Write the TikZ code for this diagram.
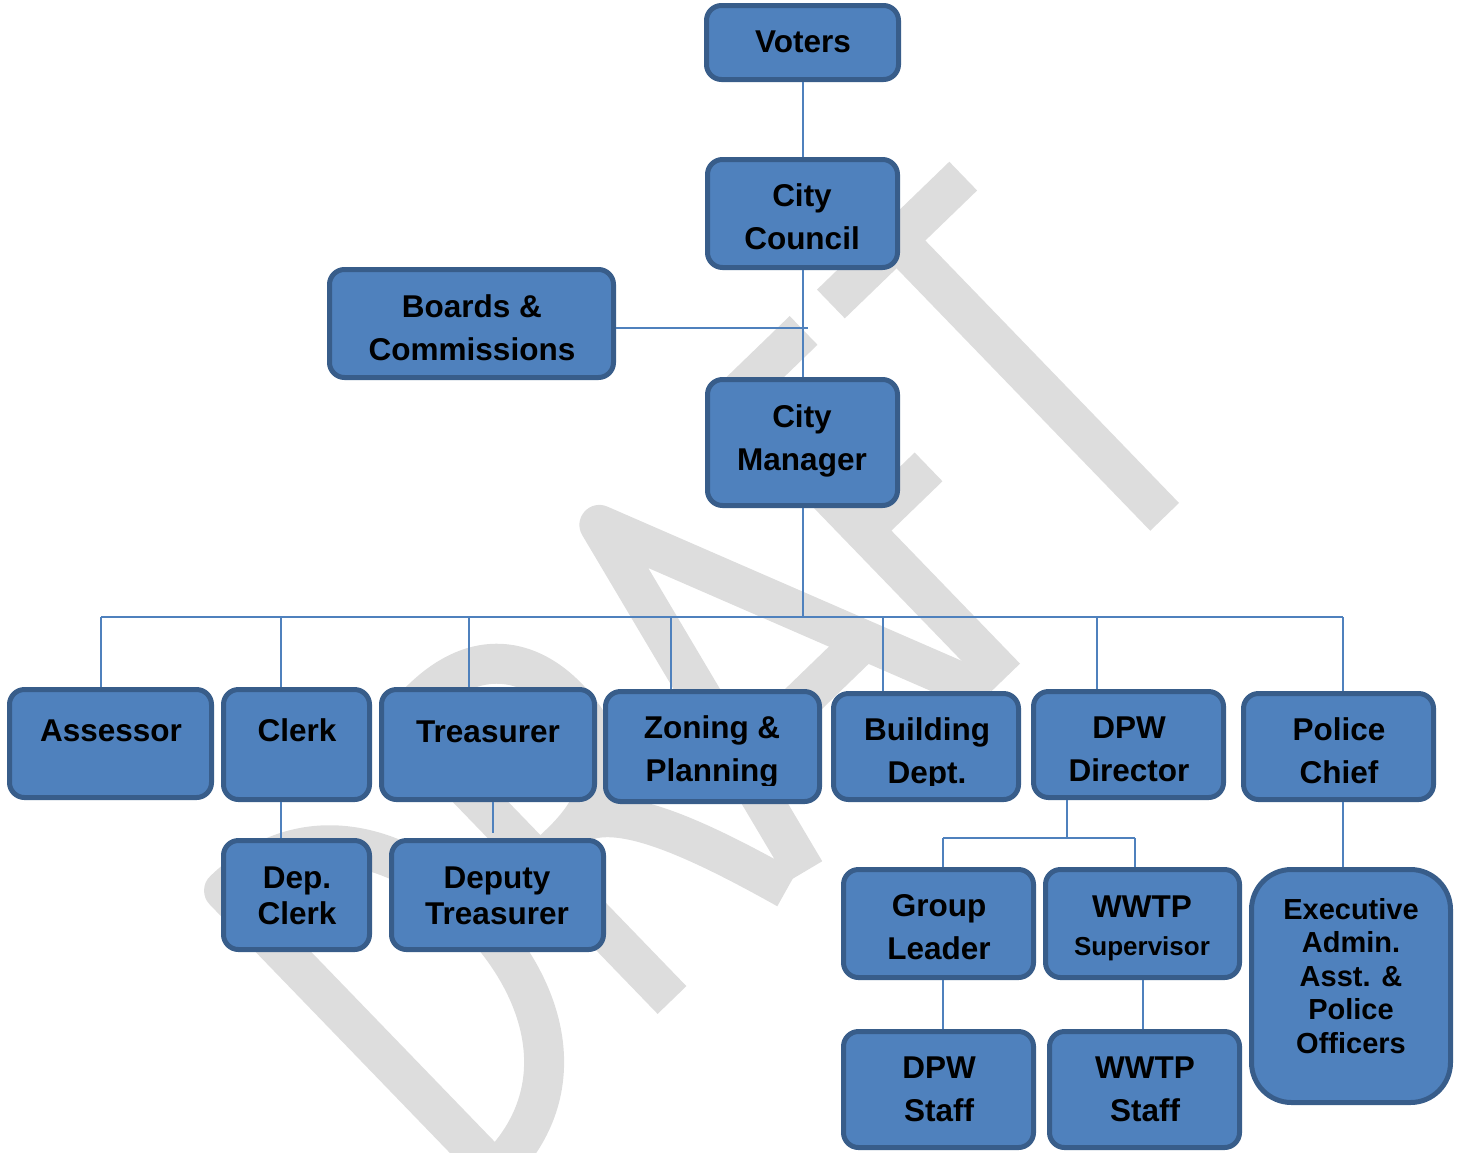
\documentclass[tikz,border=0pt]{standalone}
\usepackage{fontspec}
\setmainfont{Liberation Sans}
\definecolor{boxfill}{HTML}{4F81BD}
\definecolor{boxline}{HTML}{385D8A}
\definecolor{wmgray}{HTML}{DDDDDD}
\tikzset{
  box/.style={draw=boxline, fill=boxfill, line width=2.5pt, rounded corners=7.5pt, inner sep=0pt},
  lbl/.style={anchor=base, inner sep=0pt, align=center, text=black, font=\bfseries\fontsize{15.75}{21.5}\selectfont},
  lblnarrow/.style={lbl, font=\bfseries\fontsize{15.75}{17.75}\selectfont},
  lblsmall/.style={lbl, font=\bfseries\fontsize{14.5}{16.75}\selectfont},
  lbltiny/.style={lbl, font=\bfseries\fontsize{13}{15}\selectfont},
  conn/.style={draw=boxfill, line width=1pt},
  wm/.style={draw=wmgray, line width=20pt, line cap=butt, line join=round},
}
\begin{document}
\begin{tikzpicture}[x=0.5pt, y=-0.5pt]
\useasboundingbox (0,0) rectangle (1461,1152);

% watermark
\begin{scope}
\clip (0,0) rectangle (1461,1152);
\begin{scope}[shift={(672,1000)}, x={(0.3595pt,0.3475pt)}, y={(-0.3475pt,0.3595pt)}]
  % D
  \draw[wm] (-246,0) -- (-246,390) .. controls (-136,390) and (-83,300) .. (-83,195)
            .. controls (-83,90) and (-136,0) .. (-246,0) -- cycle;
  % R
  \draw[wm] (0,0) -- (0,390) -- (30,390) .. controls (105,390) and (135,345) .. (135,290)
            .. controls (135,230) and (105,190) .. (30,190) -- (0,190);
  \draw[wm] (60,190) .. controls (100,175) and (130,100) .. (160,0);
  % A
  \draw[wm] (185,0) -- (278,392) -- (440,0);
  \draw[wm] (213,125) -- (388,125);
  % F
  \draw[wm, line join=miter] (560,390) -- (464,390) -- (464,0);
  \draw[wm] (464,205) -- (555,205);
  % T
  \draw[wm] (598,390) -- (782,390);
  \draw[wm] (690,390) -- (690,5);
\end{scope}
\end{scope}

% boxes
\node[box, minimum width=96pt, minimum height=37pt] (voters) at (802.5,42.5) {};
\node[box, minimum width=95pt, minimum height=54pt] (council) at (802.5,213.5) {};
\node[box, minimum width=142pt, minimum height=54pt] (boards) at (471.5,323.5) {};
\node[box, minimum width=95pt, minimum height=63pt] (manager) at (802.5,442.5) {};
\node[box, minimum width=101pt, minimum height=54pt] (assessor) at (110.5,743.5) {};
\node[box, minimum width=73pt, minimum height=55pt] (clerk) at (296.5,744.5) {};
\node[box, minimum width=106.5pt, minimum height=55pt] (treasurer) at (488,744.5) {};
\node[box, minimum width=107pt, minimum height=55pt] (zoning) at (712.5,746.5) {};
\node[box, minimum width=92.5pt, minimum height=53pt] (building) at (926,746.5) {};
\node[box, minimum width=95pt, minimum height=53pt] (dpw) at (1128.5,744.5) {};
\node[box, minimum width=95pt, minimum height=53pt] (police) at (1338.5,746.5) {};
\node[box, minimum width=73pt, minimum height=54.5pt] (depclerk) at (296.5,895) {};
\node[box, minimum width=106pt, minimum height=54.5pt] (deptreas) at (497.5,895) {};
\node[box, minimum width=95pt, minimum height=54pt] (group) at (938.5,923.5) {};
\node[box, minimum width=97pt, minimum height=54pt] (wwtpsup) at (1142.5,923.5) {};
\node[box, rounded corners=20pt, minimum width=99.5pt, minimum height=116.5pt] (exec) at (1351,986) {};
\node[box, minimum width=95pt, minimum height=58pt] (dpwstaff) at (938.5,1089.5) {};
\node[box, minimum width=95pt, minimum height=58pt] (wwtpstaff) at (1144.5,1089.5) {};

% connectors
\draw[conn] (voters.south) -- (council.north);
\draw[conn] (council.south) -- (manager.north);
\coordinate (bj) at (808,328);
\draw[conn] (boards.east |- bj) -- (bj);
\coordinate (bus) at (805,617);
\draw[conn] (manager.south) -- (manager.south |- bus);
\coordinate (dA) at (101,617);
\coordinate (dC) at (281,617);
\coordinate (dT) at (469,617);
\coordinate (dZ) at (671,617);
\coordinate (dB) at (883,617);
\coordinate (dD) at (1097,617);
\coordinate (dP) at (1343,617);
\draw[conn] (dA) -- (dP);
\draw[conn] (dA) -- (dA |- assessor.north);
\draw[conn] (dC) -- (dC |- clerk.north);
\draw[conn] (dT) -- (dT |- treasurer.north);
\draw[conn] (dZ) -- (dZ |- zoning.north);
\draw[conn] (dB) -- (dB |- building.north);
\draw[conn] (dD) -- (dD |- dpw.north);
\draw[conn] (dP) -- (dP |- police.north);
\draw[conn] (clerk.south -| dC) -- (depclerk.north -| dC);
\coordinate (dT2) at (493,833);
\draw[conn] (treasurer.south -| dT2) -- (dT2);
\coordinate (dd2) at (1067,838);
\coordinate (gL) at (943,838);
\coordinate (gR) at (1135,838);
\draw[conn] (dpw.south -| dd2) -- (dd2);
\draw[conn] (gL) -- (gR);
\draw[conn] (gL) -- (gL |- group.north);
\draw[conn] (gR) -- (gR |- wwtpsup.north);
\draw[conn] (police.south -| dP) -- (exec.north -| dP);
\draw[conn] (group.south -| gL) -- (dpwstaff.north -| gL);
\coordinate (wS) at (1143,1000);
\draw[conn] (wwtpsup.south -| wS) -- (wwtpstaff.north -| wS);

% labels (multi-line nodes: base = baseline of last line)
\node[lbl] (tVoters) at (803,52) {Voters};
\node[lbl] (tCouncil) at (802,249) {City\\Council};
\node[lbl] (tBoards) at (472,360) {Boards \&\\Commissions};
\node[lbl] (tManager) at (802,470) {City\\Manager};
\node[lbl] (tAssessor) at (111,741) {Assessor};
\node[lbl] (tClerk) at (297,741) {Clerk};
\node[lbl] (tTreas) at (488,742) {Treasurer};
\begin{scope}
\clip (600,690) rectangle (1025,785);
\node[lbl] (tZoning) at (712,781) {Zoning \&\\Planning};
\node[lbl] (tBuilding) at (927,783) {Building\\Dept.};
\end{scope}
\node[lbl] (tDpw) at (1129,781) {DPW\\Director};
\node[lbl] (tPolice) at (1339,783) {Police\\Chief};
\node[lblnarrow] (tDepClerk) at (297,924) {Dep.\\Clerk};
\node[lblnarrow] (tDepTreas) at (497,924) {Deputy\\Treasurer};
\node[lbl] (tGroup) at (939,959) {Group\\Leader};
\node[lbl] (tWwtp) at (1142,917) {WWTP};
\node[lbltiny] (tSup) at (1142,955) {Supervisor};
\node[lblsmall] (tExec) at (1351,1053) {Executive\\Admin.\\Asst. \&\\Police\\Officers};
\node[lbl] (tDpwStaff) at (939,1121) {DPW\\Staff};
\node[lbl] (tWwtpStaff) at (1145,1121) {WWTP\\Staff};
\end{tikzpicture}
\end{document}
